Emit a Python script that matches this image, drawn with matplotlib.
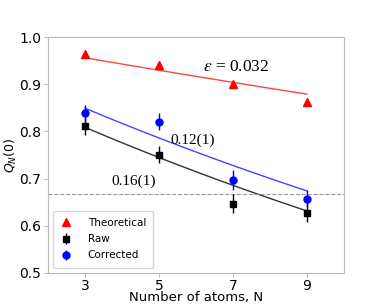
import matplotlib
matplotlib.use('Agg')
import matplotlib.pyplot as plt
import numpy as np

N = np.array([3, 5, 7, 9])
theory = np.array([0.965, 0.940, 0.900, 0.863])
raw = np.array([0.811, 0.750, 0.647, 0.628])
raw_err = np.array([0.018, 0.018, 0.021, 0.021])
corr = np.array([0.838, 0.820, 0.697, 0.657])
corr_err = np.array([0.018, 0.018, 0.021, 0.018])

# fit curves Q = a * exp(-b N), parameters
fit_theory = (0.997, 0.0140)
fit_raw = (0.915, 0.0412)
fit_corr = (0.953, 0.0385)

fig, ax = plt.subplots(figsize=(3.82, 3.06), dpi=100)
fig.subplots_adjust(left=0.126, right=0.9, top=0.879, bottom=0.108)

xx = np.linspace(N[0], N[-1], 100)
for (a, b), c in [(fit_theory, '#ff4444'), (fit_raw, '#333333'), (fit_corr, '#4444ff')]:
    ax.plot(xx, a * np.exp(-b * xx), color=c, lw=1)

ax.axhline(2 / 3, color='#999999', ls='--', lw=0.8)

ax.plot(N, theory, '^', color='red', ms=6, label='Theoretical')
ax.errorbar(N, raw, yerr=raw_err, fmt='s', color='black', ms=5,
            elinewidth=1, capsize=0, label='Raw')
ax.errorbar(N, corr, yerr=corr_err, fmt='o', color='blue', ms=5,
            elinewidth=1, capsize=0, label='Corrected')

ax.text(6.2, 0.937, r'$\epsilon$ = 0.032', fontsize=12.5, family='Liberation Serif',
        math_fontfamily='stix', va='center')
ax.text(5.32, 0.782, '0.12(1)', fontsize=11, family='Liberation Serif', va='center')
ax.text(3.70, 0.695, '0.16(1)', fontsize=11, family='Liberation Serif', va='center')

ax.set_xlim(2, 10)
ax.set_ylim(0.5, 1.0)
ax.set_xticks([3, 5, 7, 9])
ax.set_yticks([0.5, 0.6, 0.7, 0.8, 0.9, 1.0])
ax.tick_params(labelsize=10, pad=2, length=3, color='#bbbbbb')
ax.tick_params(axis='x', pad=1)
ax.set_xlabel('Number of atoms, N', fontsize=9.5, labelpad=-1)
ax.set_ylabel('$Q_N(0)$', fontsize=9, labelpad=0)
for s in ax.spines.values():
    s.set_color('#bbbbbb')

ax.legend(loc='lower left', fontsize=7.5, handlelength=1, handletextpad=1.6,
          borderpad=0.7, labelspacing=0.6)

fig.savefig('out.png', dpi=100)
